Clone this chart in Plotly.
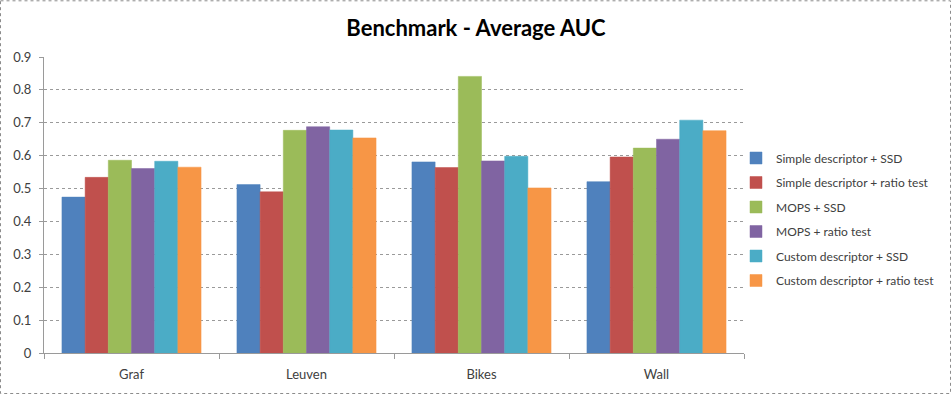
import plotly.graph_objects as go

categories = ["Graf", "Leuven", "Bikes", "Wall"]
series_names = [
    "Simple descriptor + SSD",
    "Simple descriptor + ratio test",
    "MOPS + SSD",
    "MOPS + ratio test",
    "Custom descriptor + SSD",
    "Custom descriptor + ratio test",
]
simple_ssd = [0.474, 0.512, 0.581, 0.521]
simple_ratio = [0.534, 0.490, 0.564, 0.596]
mops_ssd = [0.586, 0.677, 0.841, 0.623]
mops_ratio = [0.561, 0.688, 0.584, 0.650]
custom_ssd = [0.583, 0.678, 0.598, 0.708]
custom_ratio = [0.565, 0.654, 0.502, 0.676]
series_values = [simple_ssd, simple_ratio, mops_ssd, mops_ratio, custom_ssd, custom_ratio]
colors = ["#4F81BD", "#C0504D", "#9BBB59", "#8064A2", "#4BACC6", "#F79646"]
y_ticks = [0, 0.1, 0.2, 0.3, 0.4, 0.5, 0.6, 0.7, 0.8, 0.9]

fig = go.Figure()
for i, (name, vals, col) in enumerate(zip(series_names, series_values, colors)):
    fig.add_trace(go.Bar(
        x=categories, y=vals, name=name, legendgroup=f"g{i}",
        marker=dict(color=col, line=dict(color=col, width=0.5)),
    ))

font_family = "Lato, Carlito, Calibri, 'Open Sans', sans-serif"

# plot area in pixels: x 44..744, y 56.7..352.7
L, R, T, B = 44, 208, 57, 43
W, H = 952 - L - R, 396 - T - B

def px_x(p):
    return (p - L) / W

def px_y(p):
    return (396 - B - p) / H

fig.add_shape(type="rect", xref="paper", yref="paper",
              x0=px_x(0.5), x1=px_x(950.5), y0=px_y(0.8), y1=px_y(393.5),
              line=dict(color="#8c8c8c", width=1, dash="dot"), layer="below")

fig.update_layout(
    width=952, height=396,
    margin=dict(l=L, r=R, t=T, b=B),
    paper_bgcolor="white", plot_bgcolor="white",
    barmode="group", bargap=0.205, bargroupgap=0,
    title=dict(text="<b>Benchmark - Average AUC</b>", x=476 / 952, xanchor="center",
               y=1 - 28 / 396, yanchor="middle",
               font=dict(family=font_family, size=22, color="#000000")),
    font=dict(family=font_family, size=12, color="#404040"),
    showlegend=True,
    legend=dict(x=px_x(736), xanchor="left", y=px_y(143.5), yanchor="top",
                font=dict(family=font_family, size=12, color="#404040"),
                tracegroupgap=5.5, bgcolor="rgba(0,0,0,0)", itemwidth=30),
    xaxis=dict(showline=True, linecolor="#9a9a9a", linewidth=1,
               ticks="outside", tickson="boundaries", ticklen=5, tickcolor="#9a9a9a",
               ticklabelstandoff=9,
               showgrid=False, automargin=False, tickfont=dict(size=13, color="#404040")),
    yaxis=dict(range=[0, 0.9], tickvals=y_ticks, ticktext=[("%g" % v) for v in y_ticks],
               showline=True, linecolor="#9a9a9a", linewidth=1,
               ticks="outside", ticklen=4, tickcolor="#9a9a9a",
               ticklabelstandoff=5,
               showgrid=True, gridcolor="#9a9a9a", griddash="dot", gridwidth=1,
               zeroline=False, automargin=False, tickfont=dict(size=13, color="#404040")),
)

fig.write_html("out.html", config={"displayModeBar": False},
               post_script="document.body.style.margin='0';")
